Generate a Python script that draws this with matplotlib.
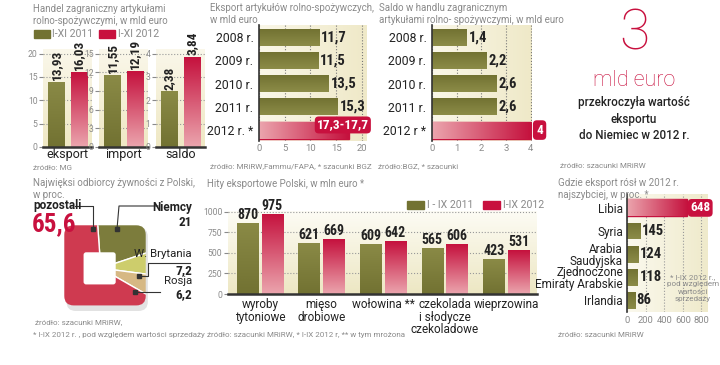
import numpy as np
import matplotlib
matplotlib.use("Agg")
import matplotlib.pyplot as plt
from matplotlib import font_manager
from matplotlib.colors import LinearSegmentedColormap
from matplotlib.patches import Rectangle, FancyBboxPatch
from matplotlib.lines import Line2D

# ---- data ----
handel_cats = ['eksport', 'import', 'saldo']
handel_2011 = [13.93, 11.55, 2.38]
handel_2012 = [16.03, 12.19, 3.84]
handel_ticks = [[0, 5, 10, 15, 20], [0, 3, 6, 9, 12, 15], [0, 1, 2, 3, 4]]

eksport_years = ['2008 r.', '2009 r.', '2010 r.', '2011 r.', '2012 r. *']
eksport_vals = [11.7, 11.5, 13.5, 15.3, 17.5]
eksport_labels = ['11,7', '11,5', '13,5', '15,3', '17,3-17,7']
eksport_ticks = [0, 5, 10, 15, 20]

saldo_years = ['2008 r.', '2009 r.', '2010 r.', '2011 r.', '2012 r *']
saldo_vals = [1.4, 2.2, 2.6, 2.6, 4]
saldo_labels = ['1,4', '2,2', '2,6', '2,6', '4']
saldo_ticks = [0, 1, 2, 3, 4]

odbiorcy_names = ['Niemcy', 'W. Brytania', 'Rosja', 'pozostali']
odbiorcy_vals = [21, 7.2, 6.2, 65.6]

hity_cats = ['wyroby\ntytoniowe', 'mięso\ndrobiowe', 'wołowina **',
             'czekolada\ni słodycze\nczekoladowe', 'wieprzowina']
hity_2011 = [870, 621, 609, 565, 423]
hity_2012 = [975, 669, 642, 606, 531]
hity_ticks = [0, 250, 500, 750, 1000]

wzrost_countries = ['Libia', 'Syria', 'Arabia\nSaudyjska',
                    'Zjednoczone\nEmiraty Arabskie', 'Irlandia']
wzrost_vals = [648, 145, 124, 118, 86]
wzrost_ticks = [0, 200, 400, 600, 800]

# ---- style ----
names = {f.name for f in font_manager.fontManager.ttflist}
BASE = ['Roboto', 'DejaVu Sans']
NARROW = [n for n in ('Roboto Condensed', 'Liberation Sans Narrow') if n in names] + ['Roboto', 'DejaVu Sans']
plt.rcParams['font.family'] = BASE

GREY = '#8a8a8a'
DARK = '#222222'
OLIVE = ('#727232', '#8a8a46')
RED = ('#eba4ad', '#c5123e')
RED_SOLID = '#c8103e'
TITLE_FS = 7.0
SRC_FS = 5.8

W, H = 720, 365
fig = plt.figure(figsize=(7.2, 3.65), dpi=100)
fig.patch.set_facecolor('white')


def add_ax(l, t, r, b):
    return fig.add_axes([l / W, 1 - b / H, (r - l) / W, (b - t) / H])


def ftext(x, y, s, **kw):
    return fig.text(x / W, 1 - y / H, s, **kw)


def fline(xs, ys, **kw):
    fig.add_artist(Line2D([x / W for x in xs], [1 - y / H for y in ys],
                          transform=fig.transFigure, **kw))


def grad(ax, patch, colors, horizontal):
    cmap = LinearSegmentedColormap.from_list('g', list(colors))
    arr = np.linspace(0, 1, 64)
    arr = arr.reshape(1, -1) if horizontal else arr.reshape(-1, 1)
    x0, y0 = patch.get_x(), patch.get_y()
    w, h = patch.get_width(), patch.get_height()
    im = ax.imshow(arr, cmap=cmap, extent=[x0, x0 + w, y0, y0 + h], origin='lower',
                   aspect='auto', zorder=patch.get_zorder() + 0.1, interpolation='bilinear')
    im.set_clip_path(patch)


def bg(ax, colors, horizontal):
    cmap = LinearSegmentedColormap.from_list('b', list(colors))
    arr = np.linspace(0, 1, 64)
    arr = arr.reshape(1, -1) if horizontal else arr.reshape(-1, 1)
    ax.imshow(arr, cmap=cmap, extent=[0, 1, 0, 1], transform=ax.transAxes,
              aspect='auto', zorder=0, origin='lower')


def fmt(v, d):
    return f'{v:.{d}f}'.replace('.', ',')


# ================= Panel 1: Handel =================
ftext(33, 4, 'Handel zagraniczny artykułami\nrolno-spożywczymi, w mld euro',
      fontsize=TITLE_FS, color=GREY, va='top', linespacing=1.3)
fig.add_artist(Rectangle((34 / W, 1 - 38 / H), 16 / W, 8 / H, color=OLIVE[0], transform=fig.transFigure))
ftext(52, 34, 'I-XI 2011', fontsize=7.6, color=GREY, va='center')
fig.add_artist(Rectangle((99 / W, 1 - 38 / H), 16 / W, 8 / H, color=RED_SOLID, transform=fig.transFigure))
ftext(118, 34, 'I-XI 2012', fontsize=7.6, color=GREY, va='center')

lefts = [43, 99, 156]
for i, cat in enumerate(handel_cats):
    ax = add_ax(lefts[i], 49, lefts[i] + 49, 147)
    top = handel_ticks[i][-1] * 1.05
    bg(ax, ('#efe8c4', '#faf7ea'), False)
    b1 = ax.bar(0, handel_2011[i], width=0.73, color=OLIVE[0], zorder=2)[0]
    b2 = ax.bar(1, handel_2012[i], width=0.73, color=RED[1], zorder=2)[0]
    grad(ax, b1, OLIVE, False)
    grad(ax, b2, RED, False)
    for x, v in ((0, handel_2011[i]), (1, handel_2012[i])):
        ax.text(x, v + top * 0.02, fmt(v, 2), rotation=90, ha='center', va='bottom',
                fontsize=9.5, fontweight='bold', family=NARROW, color=DARK, zorder=5)
    ax.set_xlim(-0.59, 1.59)
    ax.set_ylim(0, top)
    ax.set_yticks(handel_ticks[i])
    ax.set_yticklabels([str(t) for t in handel_ticks[i]])
    ax.tick_params(axis='y', length=3, color=GREY, labelcolor=GREY, labelsize=6.2, pad=1)
    ax.set_xticks([0.5])
    ax.set_xticklabels([cat])
    ax.tick_params(axis='x', length=0, labelsize=9, labelcolor=DARK, pad=1)
    ax.grid(axis='y', linestyle=':', color='#999999', linewidth=0.8, zorder=1)
    for s in ('top', 'right', 'left'):
        ax.spines[s].set_visible(False)
    ax.spines['bottom'].set_color('#333333')
    ax.spines['bottom'].set_linewidth(1.8)
ftext(33, 168, 'źródło: MG', fontsize=SRC_FS, color=GREY, va='center')


# ================= Panel 2 & 3: horizontal bars =================
def hpanel(l, r, labels, vals, vlabels, ticks, xmax):
    ax = add_ax(l, 25, r, 141)
    bg(ax, ('#faf7e8', '#efe9c8'), True)
    bars = ax.barh(range(len(vals)), vals, height=0.73, color=OLIVE[0], zorder=2)
    for j, b in enumerate(bars):
        if j == len(vals) - 1:
            b.set_color(RED[1])
            grad(ax, b, RED, True)
        else:
            grad(ax, b, ('#727232', '#8c8c48'), False)
    ax.set_xlim(0, xmax)
    ax.set_ylim(len(vals) - 0.53, -0.52)
    ax.set_yticks(range(len(vals)))
    ax.set_yticklabels(labels)
    ax.tick_params(axis='y', length=0, labelsize=8.8, labelcolor=DARK, pad=4)
    ax.set_xticks(ticks)
    ax.tick_params(axis='x', length=0, labelsize=6.8, labelcolor=GREY, pad=2)
    ax.grid(axis='x', linestyle=':', color='#777777', linewidth=0.8, zorder=1)
    for s in ('top', 'right', 'bottom'):
        ax.spines[s].set_visible(False)
    ax.spines['left'].set_color('#333333')
    ax.spines['left'].set_linewidth(1.2)
    for j, v in enumerate(vals[:-1]):
        ax.text(v + xmax * 0.02, j, vlabels[j], va='center', ha='left', fontsize=10.5,
                fontweight='bold', family=NARROW, color=DARK, zorder=5)
    return ax


ftext(210, 3, 'Eksport artykułów rolno-spożywczych,\nw mld euro',
      fontsize=TITLE_FS, color=GREY, va='top', linespacing=1.3)
ax2 = hpanel(259, 367, eksport_years, eksport_vals, eksport_labels, eksport_ticks, 21)
ax2.text(16.3, 4 - 0.22, eksport_labels[-1], ha='center', va='center', fontsize=9.5,
         fontweight='bold', family=NARROW, color='white', zorder=6, clip_on=False,
         bbox=dict(boxstyle='round,pad=0.15,rounding_size=0.3', fc=RED_SOLID, ec='none'))
ftext(210, 166, 'źródło: MRiRW,Fammu/FAPA, * szacunki BGZ', fontsize=SRC_FS, color=GREY, va='center')

ftext(379, 3, 'Saldo w handlu zagranicznym\nartykułami rolno- spożywczymi, w mld euro',
      fontsize=TITLE_FS, color=GREY, va='top', linespacing=1.3)
ax3 = hpanel(432, 532, saldo_years, saldo_vals, saldo_labels, saldo_ticks, 4.05)
ax3.text(4.22, 4, saldo_labels[-1], ha='left', va='center', fontsize=9.5,
         fontweight='bold', family=NARROW, color='white', zorder=6, clip_on=False,
         bbox=dict(boxstyle='round,pad=0.25,rounding_size=0.3', fc=RED_SOLID, ec='none'))
ftext(378, 166, 'źródło:BGZ, * szacunki', fontsize=SRC_FS, color=GREY, va='center')

# ================= Panel 4: big number =================
ftext(634, 34, '3', fontsize=40, color=RED_SOLID, ha='center', va='center', fontweight='light')
ftext(634, 80, 'mld euro', fontsize=15.5, color=RED_SOLID, ha='center', va='center', fontweight='light')
ftext(634, 119, 'przekroczyła wartość\neksportu\ndo Niemiec w 2012 r.', fontsize=8.4,
      color=DARK, ha='center', va='center', fontweight='medium', linespacing=1.35)
ftext(560, 166, 'źródło: szacunki MRiRW', fontsize=SRC_FS, color=GREY, va='center')

# ================= Panel 5: donut =================
ftext(33, 178, 'Najwięksi odbiorcy żywności z Polski,\nw proc.', fontsize=TITLE_FS, color=GREY,
      va='top', linespacing=1.2)
axd = add_ax(60, 221, 150, 311)
axd.axis('off')
shadow = FancyBboxPatch((-0.9, -1.05), 1.9, 1.95, boxstyle='round,pad=0,rounding_size=0.22',
                        fc='#e2e2e2', ec='none', zorder=0)
axd.add_patch(shadow)
clip = FancyBboxPatch((-0.95, -0.92), 1.9, 1.87, boxstyle='round,pad=0,rounding_size=0.22',
                      fc='none', ec='none', zorder=1)
axd.add_patch(clip)
wedges, _ = axd.pie(odbiorcy_vals, radius=2.2, center=(-0.1, -0.05), startangle=94,
                    counterclock=False, colors=['#7c7c3c', '#cdcd6c', '#d6b884', '#cf3a50'],
                    wedgeprops=dict(edgecolor='white', linewidth=1.0))
for w_ in wedges:
    w_.set_clip_on(True)
    w_.set_clip_path(clip)
    w_.set_zorder(2)
axd.add_patch(FancyBboxPatch((-0.5, -0.43), 0.75, 0.75, boxstyle='round,pad=0,rounding_size=0.06',
                             fc='white', ec='none', zorder=3))
axd.set_xlim(-1.05, 1.05)
axd.set_ylim(-1.05, 1.05)
axd.set_aspect('equal')

ftext(33, 205, odbiorcy_names[3], fontsize=8.5, fontweight='bold', color=DARK, va='center')
ftext(32, 224, fmt(odbiorcy_vals[3], 1), fontsize=18, fontweight='bold', family=NARROW,
      color=RED_SOLID, va='center')
ftext(192, 207, odbiorcy_names[0], fontsize=8.5, fontweight='bold', color=DARK, va='center', ha='right')
ftext(192, 222, f'{odbiorcy_vals[0]:g}', fontsize=9.5, fontweight='bold', family=NARROW, color=DARK,
      va='center', ha='right')
ftext(192, 254, odbiorcy_names[1], fontsize=8.2, color=DARK, va='center', ha='right')
ftext(192, 271, fmt(odbiorcy_vals[1], 1), fontsize=9.5, fontweight='bold', family=NARROW, color=DARK,
      va='center', ha='right')
ftext(192, 281, odbiorcy_names[2], fontsize=8.2, color=DARK, va='center', ha='right')
ftext(192, 295, fmt(odbiorcy_vals[2], 1), fontsize=9.5, fontweight='bold', family=NARROW, color=DARK,
      va='center', ha='right')
lk = dict(color='#333333', linewidth=0.8)
fline([75, 93, 93], [206, 206, 229], **lk)
fline([158, 119, 117], [206, 206, 229], **lk)
fline([190, 148, 148, 139], [263, 263, 276, 276], **lk)
fline([160, 135], [292, 292], **lk)
for (mx, my) in [(93, 229), (117, 229), (139, 276), (135, 292)]:
    fig.add_artist(Rectangle(((mx - 2) / W, 1 - (my + 2) / H), 4 / W, 4 / H,
                             color='#333333', transform=fig.transFigure))
ftext(35, 322, 'źródło: szacunki MRiRW,', fontsize=SRC_FS, color=GREY, va='center')
ftext(33, 335, '* I-IX 2012 r. , pod względem wartości sprzedaży', fontsize=SRC_FS, color=GREY, va='center')

# ================= Panel 6: Hity eksportowe =================
ftext(207, 184, 'Hity eksportowe Polski, w mln euro *', fontsize=TITLE_FS, color=GREY, va='center')
axh = add_ax(228, 211, 537, 294)
bg(axh, ('#ede7c3', '#fdfcf5'), False)
x = np.arange(len(hity_cats))
hb1 = axh.bar(x - 0.2, hity_2011, width=0.35, color=OLIVE[0], zorder=2)
hb2 = axh.bar(x + 0.2, hity_2012, width=0.35, color=RED[1], zorder=2)
for b in hb1:
    grad(axh, b, OLIVE, False)
for b in hb2:
    grad(axh, b, RED, False)
for xi, v in zip(x - 0.2, hity_2011):
    axh.text(xi, v + 12, str(v), ha='center', va='bottom', fontsize=10, fontweight='bold',
             family=NARROW, color=DARK, zorder=5)
for xi, v in zip(x + 0.2, hity_2012):
    axh.text(xi, v + 12, str(v), ha='center', va='bottom', fontsize=10, fontweight='bold',
             family=NARROW, color=DARK, zorder=5)
axh.set_xlim(-0.52, 4.5)
axh.set_ylim(0, 1010)
axh.set_yticks(hity_ticks)
axh.tick_params(axis='y', length=3, color=GREY, labelcolor=GREY, labelsize=6.2, pad=1)
axh.set_xticks(x)
axh.set_xticklabels(hity_cats, linespacing=0.95)
axh.tick_params(axis='x', length=0, labelsize=8.5, labelcolor=DARK, pad=3)
axh.grid(axis='y', linestyle=':', color='#999999', linewidth=0.8, zorder=1)
for s in ('top', 'right', 'left'):
    axh.spines[s].set_visible(False)
axh.spines['bottom'].set_color('#333333')
axh.spines['bottom'].set_linewidth(1.8)
fig.add_artist(Rectangle((407 / W, 1 - 209 / H), 17 / W, 8 / H, color=OLIVE[0], transform=fig.transFigure))
ftext(427, 205, 'I - IX 2011', fontsize=7.6, color=GREY, va='center')
fig.add_artist(Rectangle((483 / W, 1 - 209 / H), 17 / W, 8 / H, color=RED_SOLID, transform=fig.transFigure))
ftext(503, 205, 'I-IX 2012', fontsize=7.6, color=GREY, va='center')
ftext(207, 335, 'źródło: szacunki MRiRW, * I-IX 2012 r, ** w tym mrożona', fontsize=SRC_FS,
      color=GREY, va='center')

# ================= Panel 7: Gdzie eksport rósł =================
ftext(558, 178, 'Gdzie eksport rósł w 2012 r.\nnajszybciej, w proc. *', fontsize=TITLE_FS, color=GREY,
      va='top', linespacing=1.2)
axw = add_ax(627, 194, 708, 312)
bg(axw, ('#fbf9ee', '#efeacb'), True)
wb = axw.barh(range(len(wzrost_vals)), wzrost_vals, height=0.73, color=OLIVE[0], zorder=2)
for j, b in enumerate(wb):
    if j == 0:
        b.set_color(RED[1])
        grad(axw, b, RED, True)
    else:
        grad(axw, b, ('#727232', '#8c8c48'), False)
for j, v in enumerate(wzrost_vals[1:], start=1):
    axw.text(v + 15, j, str(v), va='center', ha='left', fontsize=10.5, fontweight='bold',
             family=NARROW, color=DARK, zorder=5)
axw.text(wzrost_vals[0] + 30, 0, str(wzrost_vals[0]), va='center', ha='left', fontsize=9.5,
         fontweight='bold', family=NARROW, color='white', zorder=6, clip_on=False,
         bbox=dict(boxstyle='round,pad=0.18,rounding_size=0.3', fc=RED_SOLID, ec='none'))
axw.set_xlim(0, 870)
axw.set_ylim(len(wzrost_vals) - 0.5, -0.6)
axw.set_yticks(range(len(wzrost_vals)))
axw.set_yticklabels(wzrost_countries, linespacing=0.9)
axw.tick_params(axis='y', length=0, labelsize=8.5, labelcolor=DARK, pad=3)
axw.set_xticks(wzrost_ticks)
axw.tick_params(axis='x', length=0, labelsize=6.8, labelcolor=GREY, pad=3)
axw.grid(axis='x', linestyle=':', color='#999999', linewidth=0.8, zorder=1)
for s in ('top', 'right', 'bottom'):
    axw.spines[s].set_visible(False)
axw.spines['left'].set_color('#333333')
axw.spines['left'].set_linewidth(1.2)
ftext(693, 288, '* I-IX 2012 r.,\npod względem\nwartości\nsprzedaży', fontsize=5.8, color=GREY,
      ha='center', va='center', linespacing=1.3)
ftext(558, 335, 'źródło: szacunki MRiRW', fontsize=SRC_FS, color=GREY, va='center')

fig.savefig('out.png', dpi=100)
